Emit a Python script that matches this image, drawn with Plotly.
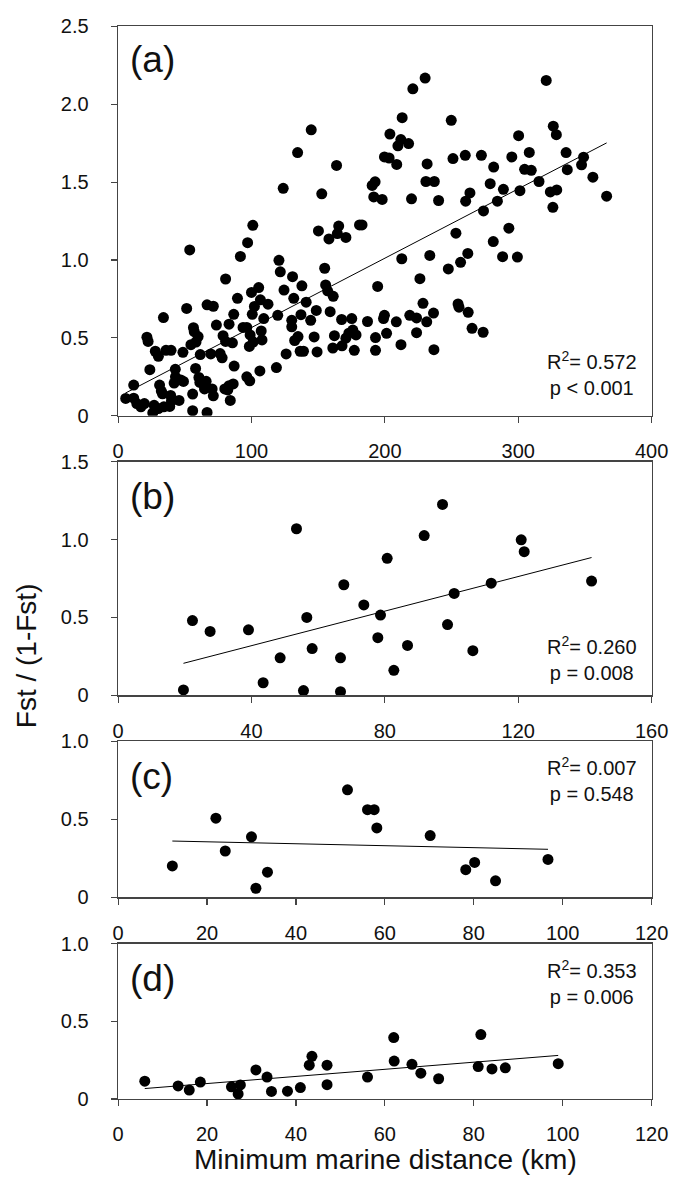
import plotly.graph_objects as go

# ---------------- data ----------------
a_x = [101,123.8,134.6,144.8,150.2,152.7,163.8,165.4,181,182.9,190.5,192.7,191.7,198,199.7,203.2,203.8,208.9,209.8,212,213,217.8,220,221,230.2,231.7,230.8,237.1,240.3,249.8,251.1,253.3,260.6,263.8,260.3,272.4,274,279,281.6,284.4,288.9,293,295.2,300.3,301.3,304.8,309.8,308.3,315.6,321,324.1,326.3,328.6,326,328.9,335.9,336.8,347.5,349,356,366.3,
       97.1,158.1,164.4,170.8,281.3,288.3,299.4,53.7,91.7,120.6,212.7,233.7,247.6,256.8,262.2,121.6,80.6,130.8,154.9,194.6,226.3,124.4,137.8,155.6,157.1,161.3,100,105.4,102.2,106.7,112.4,89.5,131.7,141,66.7,71.4,51.4,34,119.7,86.7,100.6,137.1,148.6,159,130.2,130.2,109.2,144.4,167.6,175.2,187,199.7,199,208.6,218.7,223.8,228.6,231.4,236.5,254.9,255.6,262.5,265.4,273.7,56.5,57.1,60,54.6,58.4,21.6,22.5,27.9,30.2,35.9,39.7,48.6,61.6,69.5,73.7,78.7,80.6,83.2,85.7,93.7,96.5,99,98.4,101.3,107.3,107.9,126,136.5,139,149.2,147,134.9,132.4,161,162.2,167.9,170.8,173,176,177.1,178.4,193,193,201.3,212.1,223.8,236.8,118.7,106.3,96.5,98.7,87,86.3,83.2,80,82.2,84.1,76.5,78,64.8,70.5,61.3,60.6,66,71.4,66.7,55.9,55.9,58.1,42.9,43,47,42,49,45.7,40,38.7,34.3,30.2,27,26,23.8,31.1,32.4,33.3,19.7,17.1,14,11.7,11.7,5.7,39.4]
a_y = [1.223,1.46,1.69,1.836,1.187,1.425,1.607,1.218,1.225,1.225,1.479,1.502,1.405,1.389,1.662,1.655,1.809,1.614,1.733,1.773,1.914,1.748,1.393,2.099,2.168,1.617,1.504,1.504,1.382,1.897,1.651,1.172,1.378,1.431,1.672,1.672,1.315,1.49,1.597,1.378,1.454,1.204,1.662,1.798,1.445,1.582,1.576,1.691,1.504,2.153,1.437,1.859,1.805,1.338,1.45,1.69,1.58,1.611,1.66,1.532,1.41,
       1.111,1.135,1.17,1.145,1.118,1.021,1.019,1.065,1.023,0.998,1.008,1.029,0.943,0.985,1.042,0.924,0.878,0.893,0.947,0.83,0.88,0.807,0.834,0.84,0.802,0.767,0.792,0.823,0.702,0.744,0.716,0.754,0.754,0.729,0.712,0.703,0.689,0.63,0.645,0.651,0.651,0.649,0.676,0.668,0.613,0.571,0.624,0.613,0.618,0.624,0.605,0.645,0.624,0.603,0.645,0.628,0.722,0.603,0.659,0.718,0.697,0.664,0.561,0.536,0.565,0.54,0.508,0.456,0.473,0.504,0.477,0.414,0.382,0.42,0.42,0.407,0.393,0.397,0.582,0.514,0.477,0.588,0.468,0.567,0.567,0.519,0.445,0.473,0.544,0.487,0.397,0.414,0.414,0.41,0.506,0.508,0.483,0.435,0.514,0.449,0.498,0.53,0.55,0.42,0.519,0.42,0.502,0.529,0.456,0.533,0.424,0.309,0.288,0.25,0.224,0.319,0.204,0.193,0.172,0.166,0.098,0.399,0.372,0.172,0.172,0.214,0.246,0.221,0.128,0.021,0.032,0.139,0.304,0.298,0.25,0.23,0.21,0.22,0.098,0.095,0.06,0.057,0.046,0.067,0.019,0.296,0.197,0.158,0.141,0.078,0.057,0.078,0.113,0.197,0.111,0.13]
a_fit_x = [5.4, 366.3]
a_fit_y = [0.145, 1.752]

b_x = [22.3,27.6,39.1,53.5,56.6,58.2,48.6,43.5,19.6,55.6,66.7,66.7,67.7,73.7,77.9,78.7,80.7,82.7,86.8,91.8,98.8,100.8,97.3,106.4,111.9,120.9,121.8,142]
b_y = [0.48,0.41,0.42,1.07,0.50,0.30,0.24,0.08,0.034,0.03,0.023,0.24,0.71,0.58,0.37,0.515,0.88,0.16,0.32,1.026,0.454,0.654,1.226,0.286,0.72,0.999,0.923,0.734]
b_fit_x = [19.6, 142]
b_fit_y = [0.205, 0.885]

c_x = [22.0,24.1,30.0,51.6,56.1,57.6,58.2,70.2,12.2,31.0,33.6,78.2,80.2,84.9,96.7]
c_y = [0.507,0.296,0.387,0.689,0.561,0.561,0.444,0.395,0.20,0.057,0.16,0.176,0.223,0.105,0.242]
c_fit_x = [12.2, 96.7]
c_fit_y = [0.36, 0.307]

d_x = [62.0,81.6,6.0,13.5,16.0,18.5,25.5,27.0,27.5,31.0,33.5,34.5,38.1,41.0,43.0,43.6,47.0,47.0,56.1,62.1,66.1,68.1,72.1,81.0,84.1,87.1,99.0]
d_y = [0.395,0.414,0.114,0.084,0.057,0.109,0.078,0.032,0.09,0.187,0.141,0.048,0.05,0.073,0.217,0.274,0.217,0.092,0.141,0.244,0.223,0.166,0.13,0.208,0.193,0.2,0.227]
d_fit_x = [6.0, 99.0]
d_fit_y = [0.067, 0.28]

panel_labels = ["(a)", "(b)", "(c)", "(d)"]
stats = ["R<sup>2</sup>= 0.572<br>p < 0.001", "R<sup>2</sup>= 0.260<br>p = 0.008",
         "R<sup>2</sup>= 0.007<br>p = 0.548", "R<sup>2</sup>= 0.353<br>p = 0.006"]
x_ranges = [[0, 400], [0, 160], [0, 120], [0, 120]]
x_ticks = [[0, 100, 200, 300, 400], [0, 40, 80, 120, 160], [0, 20, 40, 60, 80, 100, 120], [0, 20, 40, 60, 80, 100, 120]]
y_ranges = [[0, 2.5], [0, 1.5], [0, 1.0], [0, 1.0]]
y_ticks = [[0, 0.5, 1.0, 1.5, 2.0, 2.5], [0, 0.5, 1.0, 1.5], [0, 0.5, 1.0], [0, 0.5, 1.0]]
y_ticktext = [["0", "0.5", "1.0", "1.5", "2.0", "2.5"], ["0", "0.5", "1.0", "1.5"], ["0", "0.5", "1.0"], ["0", "0.5", "1.0"]]
x_title = "Minimum marine distance (km)"
y_title = "Fst / (1-Fst)"

# ---------------- layout geometry (pixels) ----------------
W, H = 685, 1198
left_px, right_px = 116, 668
panel_px = [(15.7, 412.3), (459.3, 697.0), (744.0, 902.7), (950.0, 1108.3)]
label_cy = [49.5, 495, 780, 986]
stat_cy = [369.5, 660, 782.5, 990]

FONT = "Liberation Sans, Arial, sans-serif"
fig = go.Figure()
series = [(a_x, a_y, a_fit_x, a_fit_y), (b_x, b_y, b_fit_x, b_fit_y),
          (c_x, c_y, c_fit_x, c_fit_y), (d_x, d_y, d_fit_x, d_fit_y)]

layout = dict(
    width=W, height=H, margin=dict(l=0, r=0, t=0, b=0),
    paper_bgcolor="white", plot_bgcolor="white", showlegend=False,
    font=dict(family=FONT, color="#111111"),
)
annotations = []
for i, (sx, sy, fx, fy) in enumerate(series):
    n = "" if i == 0 else str(i + 1)
    xa, ya = "x" + n, "y" + n
    fig.add_trace(go.Scatter(x=fx, y=fy, mode="lines", line=dict(color="black", width=1),
                             xaxis=xa, yaxis=ya, hoverinfo="skip"))
    fig.add_trace(go.Scatter(x=sx, y=sy, mode="markers",
                             marker=dict(color="black", size=11, line=dict(width=0)),
                             xaxis=xa, yaxis=ya))
    top, bot = panel_px[i]
    axis_common = dict(showline=True, linecolor="#444444", linewidth=1.5, mirror=True,
                       ticks="outside", ticklen=6, tickwidth=1.2, tickcolor="#444444",
                       showgrid=False, zeroline=False,
                       tickfont=dict(family=FONT, size=20, color="#111111"))
    layout["xaxis" + n] = dict(domain=[left_px / W, right_px / W], range=x_ranges[i],
                               tickvals=x_ticks[i], anchor=ya, ticklabelstandoff=11,
                               **axis_common)
    layout["yaxis" + n] = dict(domain=[1 - bot / H, 1 - top / H], range=y_ranges[i],
                               tickvals=y_ticks[i], ticktext=y_ticktext[i], anchor=xa,
                               ticklabelstandoff=18, **axis_common)
    annotations.append(dict(text=panel_labels[i], xref="paper", yref="paper",
                            x=126 / W, y=1 - label_cy[i] / H, xanchor="left", yanchor="middle",
                            showarrow=False, font=dict(family=FONT, size=37, color="#111111")))
    annotations.append(dict(text=stats[i], xref="paper", yref="paper",
                            x=606 / W, y=1 - stat_cy[i] / H, xanchor="center", yanchor="middle",
                            align="center", showarrow=False,
                            font=dict(family=FONT, size=20, color="#111111")))

annotations.append(dict(text=x_title, xref="paper", yref="paper", x=393 / W, y=1 - 1170 / H,
                        xanchor="center", yanchor="middle", showarrow=False,
                        font=dict(family=FONT, size=28, color="#111111")))
annotations.append(dict(text=y_title, xref="paper", yref="paper", x=22 / W, y=1 - 657 / H,
                        xanchor="center", yanchor="middle", textangle=-90, showarrow=False,
                        font=dict(family=FONT, size=28, color="#111111")))
layout["annotations"] = annotations
fig.update_layout(**layout)
fig.write_html("out.html", config={"displayModeBar": False, "staticPlot": True},
               post_script="document.body.style.margin='0';document.body.style.padding='0';"
                           "document.documentElement.style.overflow='hidden';")
